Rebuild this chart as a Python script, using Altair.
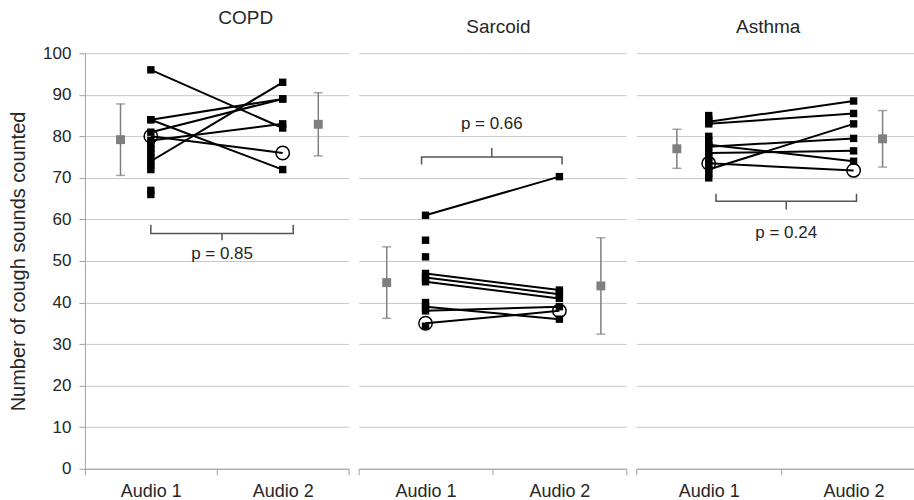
import altair as alt
import pandas as pd

FONT = "Liberation Sans"
TXT = "#262626"
GRID = "#c8c8c8"
GRAY = "#7f7f7f"

Y_TITLE = "Number of cough sounds counted"
Y_TICKS = [0, 10, 20, 30, 40, 50, 60, 70, 80, 90, 100]
X_TICKS = [0, 0.5, 1, 1.5, 2]
CAT_X = [0.5, 1.5]          # Audio 1, Audio 2

# ---------------- COPD ----------------
COPD_PAIR_A1 = [96, 84, 84, 81, 79, 74]
COPD_PAIR_A2 = [82, 72, 89, 89, 83, 93]
COPD_ONLY_A1 = [78, 77, 76, 75, 73, 72, 67, 66]
COPD_ONLY_A2 = []
COPD_CIRCLE = [80, 76]
COPD_MEAN = [79.2, 82.9]
COPD_SD = [8.6, 7.6]
COPD_MEAN_X = [0.27, 1.77]
COPD_P = "p = 0.85"
COPD_BR_X = [0.5, 1.04, 1.58]
COPD_BR_Y = [58.7, 56.6, 55.0]   # hook, bar, tip
COPD_P_Y = 51.7

# ---------------- Sarcoid ----------------
SARC_PAIR_A1 = [61, 47, 46, 45, 39, 38]
SARC_PAIR_A2 = [70.3, 43, 42, 41, 36, 39]
SARC_ONLY_A1 = [55, 51, 40, 34.3]
SARC_ONLY_A2 = []
SARC_CIRCLE = [35, 38]
SARC_MEAN = [44.8, 44.0]
SARC_SD = [8.6, 11.6]
SARC_MEAN_X = [0.21, 1.81]
SARC_P = "p = 0.66"
SARC_BR_X = [0.47, 0.995, 1.52]
SARC_BR_Y = [73.2, 75.0, 77.2]
SARC_P_Y = 83.0

# ---------------- Asthma ----------------
ASTH_PAIR_A1 = [83.5, 83, 72, 77.5, 76, 78]
ASTH_PAIR_A2 = [88.5, 85.5, 83, 79.5, 76.5, 74]
ASTH_ONLY_A1 = [85, 84, 80, 79, 75, 74, 73, 71, 70]
ASTH_ONLY_A2 = []
ASTH_CIRCLE = [73.5, 71.8]
ASTH_MEAN = [77.0, 79.4]
ASTH_SD = [4.7, 6.8]
ASTH_MEAN_X = [0.28, 1.70]
ASTH_P = "p = 0.24"
ASTH_BR_X = [0.55, 1.035, 1.52]
ASTH_BR_Y = [66.2, 64.4, 62.4]
ASTH_P_Y = 56.8


def panel(title, pair_a1, pair_a2, only_a1, only_a2, circle, mean, sd, mean_x,
          p_text, br_x, br_y, p_y, width, xmax, show_y, title_dx):
    line_rows = []
    for i, (a, b) in enumerate(zip(pair_a1, pair_a2)):
        line_rows.append({"s": i, "x": CAT_X[0], "y": a})
        line_rows.append({"s": i, "x": CAT_X[1], "y": b})
    line_rows.append({"s": 99, "x": CAT_X[0], "y": circle[0]})
    line_rows.append({"s": 99, "x": CAT_X[1], "y": circle[1]})
    lines_df = pd.DataFrame(line_rows)

    sq_rows = [{"x": CAT_X[0], "y": v} for v in list(pair_a1) + list(only_a1)]
    sq_rows += [{"x": CAT_X[1], "y": v} for v in list(pair_a2) + list(only_a2)]
    sq_df = pd.DataFrame(sq_rows)

    circ_df = pd.DataFrame({"x": CAT_X, "y": circle})

    mean_df = pd.DataFrame({
        "x": mean_x, "y": mean,
        "lo": [m - s for m, s in zip(mean, sd)],
        "hi": [m + s for m, s in zip(mean, sd)],
    })

    br_df = pd.DataFrame({
        "o": list(range(7)),
        "x": [br_x[0], br_x[0], br_x[1], br_x[1], br_x[1], br_x[2], br_x[2]],
        "y": [br_y[0], br_y[1], br_y[1], br_y[2], br_y[1], br_y[1], br_y[0]],
    })
    txt_df = pd.DataFrame({"x": [br_x[1]], "y": [p_y], "t": [p_text]})

    xenc = alt.X(
        "x:Q",
        scale=alt.Scale(domain=[0, xmax], nice=False, zero=False),
        axis=alt.Axis(
            values=X_TICKS, title=None, grid=False,
            labelExpr="datum.value == 0.5 ? 'Audio 1' : (datum.value == 1.5 ? 'Audio 2' : '')",
            tickOpacity={"condition": {"test": "datum.value % 1 == 0", "value": 1}, "value": 0},
            tickSize=6, tickColor="#a0a0a0", domainColor="#a0a0a0",
            labelFontSize=18, labelFont=FONT, labelColor=TXT, labelPadding=8,
            labelFlush=False, labelOverlap=False,
        ),
    )
    if show_y:
        yaxis = alt.Axis(values=Y_TICKS, title=Y_TITLE, grid=True, gridColor=GRID,
                         domainColor="#a0a0a0", tickColor="#a0a0a0", tickSize=6,
                         labelFontSize=17, labelFont=FONT, labelColor=TXT, labelPadding=8,
                         titleFontSize=20, titleFont=FONT, titleColor=TXT,
                         titleFontWeight="normal", titlePadding=14)
    else:
        yaxis = alt.Axis(values=Y_TICKS, title=None, grid=True, gridColor=GRID,
                         labels=False, ticks=False, domain=False)

    def yenc(field="y"):
        return alt.Y(f"{field}:Q", scale=alt.Scale(domain=[0, 100], nice=False), axis=yaxis)

    base_lines = alt.Chart(lines_df).mark_line(color="black", strokeWidth=2).encode(
        x=xenc, y=yenc(), detail="s:N", order="x:Q")
    squares = alt.Chart(sq_df).mark_square(size=55, color="black", opacity=1).encode(
        x=xenc, y=yenc())
    circles = alt.Chart(circ_df).mark_point(shape="circle", size=180, filled=False,
                                            color="black", strokeWidth=1.5, opacity=1).encode(
        x=xenc, y=yenc())
    ebar = alt.Chart(mean_df).mark_errorbar(ticks={"size": 9}, color=GRAY, thickness=1.5).encode(
        x=xenc, y=yenc("lo"), y2="hi:Q")
    means = alt.Chart(mean_df).mark_square(size=80, color=GRAY, opacity=1).encode(
        x=xenc, y=yenc())
    bracket = alt.Chart(br_df).mark_line(color="#555555", strokeWidth=1.5).encode(
        x=xenc, y=yenc(), order="o:Q")
    ptext = alt.Chart(txt_df).mark_text(fontSize=17, font=FONT, color=TXT).encode(
        x=xenc, y=yenc(), text="t:N")

    return alt.layer(ebar, means, bracket, ptext, base_lines, squares, circles).properties(
        width=width, height=416,
        title=alt.TitleParams(title, fontSize=19, font=FONT, color=TXT,
                              fontWeight="normal", offset=16, dx=title_dx),
    )


p1 = panel("COPD", COPD_PAIR_A1, COPD_PAIR_A2, COPD_ONLY_A1, COPD_ONLY_A2, COPD_CIRCLE,
           COPD_MEAN, COPD_SD, COPD_MEAN_X, COPD_P, COPD_BR_X, COPD_BR_Y, COPD_P_Y,
           264, 2, True, 29)
p2 = panel("Sarcoid", SARC_PAIR_A1, SARC_PAIR_A2, SARC_ONLY_A1, SARC_ONLY_A2, SARC_CIRCLE,
           SARC_MEAN, SARC_SD, SARC_MEAN_X, SARC_P, SARC_BR_X, SARC_BR_Y, SARC_P_Y,
           268, 2, False, 6)
p3 = panel("Asthma", ASTH_PAIR_A1, ASTH_PAIR_A2, ASTH_ONLY_A1, ASTH_ONLY_A2, ASTH_CIRCLE,
           ASTH_MEAN, ASTH_SD, ASTH_MEAN_X, ASTH_P, ASTH_BR_X, ASTH_BR_Y, ASTH_P_Y,
           278, 1.917, False, -7)

chart = alt.hconcat(p1, p2, p3, spacing=8).properties(
    padding={"left": 8, "top": 9, "right": 0, "bottom": 0},
    background="white",
).configure_view(stroke=None)

chart.save("out.html", embed_options={"renderer": "svg", "actions": False})
